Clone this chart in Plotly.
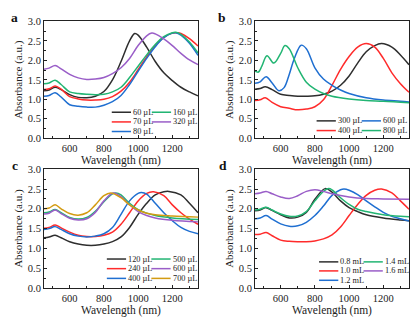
import plotly.graph_objects as go

# ---------------- Data ----------------
# Panel a
wl_a60 = [450, 480, 515, 550, 600, 650, 700, 750, 800, 850, 900, 950, 980, 1000, 1050, 1100, 1150, 1200, 1250, 1300, 1350]
ab_a60 = [1.22, 1.24, 1.31, 1.25, 1.12, 1.05, 1.04, 1.08, 1.20, 1.50, 1.97, 2.50, 2.69, 2.65, 2.34, 1.97, 1.68, 1.48, 1.31, 1.19, 1.09]
wl_a70 = [450, 480, 515, 550, 600, 650, 700, 750, 800, 850, 900, 950, 1000, 1050, 1100, 1150, 1200, 1230, 1250, 1300, 1350]
ab_a70 = [1.25, 1.27, 1.34, 1.26, 1.07, 1.01, 0.98, 0.98, 1.00, 1.07, 1.21, 1.44, 1.76, 2.09, 2.38, 2.59, 2.70, 2.71, 2.69, 2.56, 2.37]
wl_a80 = [450, 480, 515, 550, 600, 650, 700, 750, 800, 850, 900, 950, 1000, 1050, 1100, 1150, 1200, 1220, 1250, 1300, 1350]
ab_a80 = [1.08, 1.10, 1.17, 1.06, 0.86, 0.82, 0.80, 0.80, 0.85, 0.94, 1.10, 1.38, 1.72, 2.05, 2.35, 2.58, 2.70, 2.71, 2.65, 2.44, 2.13]
wl_a160 = [450, 480, 515, 550, 600, 650, 700, 750, 800, 850, 900, 950, 1000, 1050, 1100, 1150, 1200, 1220, 1250, 1300, 1350]
ab_a160 = [1.40, 1.42, 1.49, 1.38, 1.19, 1.15, 1.13, 1.12, 1.13, 1.19, 1.31, 1.56, 1.85, 2.14, 2.41, 2.61, 2.71, 2.72, 2.67, 2.47, 2.19]
wl_a320 = [450, 480, 515, 550, 600, 650, 700, 750, 800, 850, 900, 950, 1000, 1050, 1080, 1100, 1150, 1200, 1250, 1300, 1350]
ab_a320 = [1.77, 1.80, 1.87, 1.78, 1.64, 1.55, 1.51, 1.52, 1.56, 1.66, 1.81, 2.05, 2.38, 2.63, 2.70, 2.68, 2.55, 2.38, 2.18, 2.01, 1.89]

# Panel b
wl_b300 = [450, 480, 510, 550, 600, 650, 700, 750, 800, 850, 900, 950, 1000, 1050, 1100, 1150, 1190, 1250, 1300, 1350]
ab_b300 = [1.26, 1.28, 1.32, 1.25, 1.13, 1.10, 1.08, 1.08, 1.09, 1.13, 1.21, 1.36, 1.60, 1.93, 2.22, 2.38, 2.43, 2.34, 2.14, 1.89]
wl_b400 = [450, 480, 510, 550, 600, 650, 700, 750, 800, 850, 900, 950, 1000, 1050, 1100, 1150, 1200, 1250, 1300, 1350]
ab_b400 = [0.97, 0.99, 1.04, 0.92, 0.81, 0.77, 0.73, 0.75, 0.81, 0.99, 1.36, 1.77, 2.10, 2.34, 2.43, 2.34, 2.05, 1.68, 1.40, 1.18]
wl_b600 = [450, 480, 515, 550, 590, 620, 650, 680, 720, 750, 800, 850, 900, 950, 1000, 1100, 1200, 1300, 1350]
ab_b600 = [1.41, 1.45, 1.58, 1.42, 1.22, 1.30, 1.64, 2.05, 2.39, 2.30, 1.81, 1.52, 1.36, 1.24, 1.15, 1.04, 0.98, 0.95, 0.93]
wl_b800 = [450, 470, 490, 520, 560, 600, 625, 650, 700, 750, 800, 850, 900, 1000, 1100, 1200, 1350]
ab_b800 = [1.72, 1.70, 1.85, 2.12, 1.93, 2.18, 2.38, 2.30, 1.81, 1.44, 1.26, 1.15, 1.08, 1.01, 0.97, 0.95, 0.91]

# Panel c
wl_c120 = [450, 480, 515, 550, 600, 650, 700, 750, 800, 850, 900, 950, 1000, 1050, 1100, 1150, 1180, 1250, 1300, 1350]
ab_c120 = [1.27, 1.29, 1.33, 1.27, 1.17, 1.11, 1.08, 1.08, 1.11, 1.17, 1.29, 1.53, 1.86, 2.14, 2.35, 2.43, 2.44, 2.35, 2.14, 1.90]
wl_c240 = [450, 480, 515, 550, 600, 650, 700, 750, 800, 850, 900, 950, 1000, 1050, 1090, 1150, 1200, 1250, 1300, 1350]
ab_c240 = [1.51, 1.53, 1.59, 1.52, 1.41, 1.33, 1.30, 1.30, 1.33, 1.41, 1.61, 1.90, 2.20, 2.39, 2.43, 2.33, 2.10, 1.90, 1.74, 1.61]
wl_c400 = [450, 480, 515, 550, 600, 650, 700, 750, 800, 850, 900, 950, 1000, 1020, 1050, 1100, 1150, 1200, 1250, 1300, 1350]
ab_c400 = [1.48, 1.50, 1.55, 1.48, 1.37, 1.31, 1.29, 1.31, 1.37, 1.53, 1.86, 2.20, 2.39, 2.41, 2.37, 2.14, 1.90, 1.70, 1.53, 1.43, 1.37]
wl_c500 = [450, 480, 515, 550, 600, 650, 700, 750, 800, 850, 870, 900, 950, 1000, 1050, 1100, 1200, 1350]
ab_c500 = [1.90, 1.92, 1.98, 1.90, 1.78, 1.74, 1.78, 1.94, 2.18, 2.38, 2.40, 2.35, 2.14, 1.98, 1.89, 1.83, 1.77, 1.73]
wl_c600 = [450, 480, 515, 550, 600, 650, 700, 750, 800, 855, 900, 950, 1000, 1050, 1100, 1200, 1350]
ab_c600 = [1.87, 1.89, 1.97, 1.88, 1.76, 1.72, 1.75, 1.91, 2.20, 2.40, 2.31, 2.10, 1.93, 1.83, 1.77, 1.71, 1.67]
wl_c700 = [450, 480, 515, 550, 600, 650, 700, 750, 800, 840, 900, 950, 1000, 1050, 1100, 1200, 1350]
ab_c700 = [2.00, 2.02, 2.10, 2.00, 1.88, 1.84, 1.90, 2.10, 2.33, 2.40, 2.28, 2.10, 1.97, 1.89, 1.85, 1.82, 1.79]

# Panel d
wl_d08 = [450, 480, 515, 550, 600, 650, 700, 750, 800, 860, 900, 950, 1000, 1050, 1100, 1200, 1300, 1350]
ab_d08 = [1.95, 1.97, 2.03, 1.96, 1.85, 1.77, 1.79, 1.91, 2.24, 2.51, 2.42, 2.20, 2.03, 1.93, 1.85, 1.77, 1.72, 1.70]
wl_d10 = [450, 480, 515, 550, 600, 650, 700, 750, 800, 850, 900, 950, 1000, 1050, 1100, 1150, 1190, 1250, 1300, 1350]
ab_d10 = [1.35, 1.36, 1.40, 1.32, 1.21, 1.18, 1.17, 1.17, 1.19, 1.24, 1.34, 1.54, 1.83, 2.11, 2.34, 2.47, 2.50, 2.40, 2.20, 1.99]
wl_d12 = [450, 480, 515, 550, 600, 650, 700, 750, 800, 850, 900, 950, 970, 1000, 1050, 1100, 1150, 1200, 1250, 1300, 1350]
ab_d12 = [1.75, 1.77, 1.83, 1.74, 1.62, 1.56, 1.57, 1.66, 1.83, 2.07, 2.34, 2.48, 2.50, 2.47, 2.36, 2.20, 2.05, 1.91, 1.81, 1.75, 1.69]
wl_d14 = [450, 480, 515, 550, 600, 650, 700, 750, 800, 850, 880, 900, 950, 1000, 1050, 1100, 1200, 1300, 1350]
ab_d14 = [1.97, 1.99, 2.04, 1.97, 1.87, 1.81, 1.82, 1.93, 2.20, 2.44, 2.51, 2.48, 2.28, 2.11, 1.99, 1.93, 1.85, 1.81, 1.80]
wl_d16 = [450, 480, 515, 550, 600, 650, 700, 750, 800, 850, 900, 1000, 1100, 1200, 1350]
ab_d16 = [2.38, 2.40, 2.44, 2.38, 2.30, 2.26, 2.33, 2.44, 2.48, 2.44, 2.38, 2.30, 2.26, 2.25, 2.24]

# Tick labels
x_ticks = [600, 800, 1000, 1200]
y_ticks = [0.0, 0.5, 1.0, 1.5, 2.0, 2.5, 3.0]
panel_letters = ["a", "b", "c", "d"]

# ---------------- Styling ----------------
BLACK = "#2e2e2e"
RED = "#ff2b2b"
GREEN = "#22b573"
BLUE = "#1f6fd1"
PURPLE = "#9a5ec8"
ORANGE = "#d39b12"
FONT = "Liberation Serif, Times New Roman, serif"

panels = [
    ("x", "y", [
        ("60 µL", wl_a60, ab_a60, BLACK),
        ("70 µL", wl_a70, ab_a70, RED),
        ("80 µL", wl_a80, ab_a80, BLUE),
        ("160 µL", wl_a160, ab_a160, GREEN),
        ("320 µL", wl_a320, ab_a320, PURPLE),
    ], [["60 µL", "70 µL", "80 µL"], ["160 µL", "320 µL"]]),
    ("x2", "y2", [
        ("300 µL", wl_b300, ab_b300, BLACK),
        ("400 µL", wl_b400, ab_b400, RED),
        ("600 µL", wl_b600, ab_b600, BLUE),
        ("800 µL", wl_b800, ab_b800, GREEN),
    ], [["300 µL", "400 µL"], ["600 µL", "800 µL"]]),
    ("x3", "y3", [
        ("120 µL", wl_c120, ab_c120, BLACK),
        ("240 µL", wl_c240, ab_c240, RED),
        ("400 µL", wl_c400, ab_c400, BLUE),
        ("500 µL", wl_c500, ab_c500, GREEN),
        ("600 µL", wl_c600, ab_c600, PURPLE),
        ("700 µL", wl_c700, ab_c700, ORANGE),
    ], [["120 µL", "240 µL", "400 µL"], ["500 µL", "600 µL", "700 µL"]]),
    ("x4", "y4", [
        ("0.8 mL", wl_d08, ab_d08, BLACK),
        ("1.0 mL", wl_d10, ab_d10, RED),
        ("1.2 mL", wl_d12, ab_d12, BLUE),
        ("1.4 mL", wl_d14, ab_d14, GREEN),
        ("1.6 mL", wl_d16, ab_d16, PURPLE),
    ], [["0.8 mL", "1.0 mL", "1.2 mL"], ["1.4 mL", "1.6 mL"]]),
]

# legend geometry per panel (fractions of each subplot's domain)
legend_geom = [
    dict(cols=[0.44, 0.70], rows=[0.223, 0.140, 0.058]),
    dict(cols=[0.40, 0.693], rows=[0.149, 0.066]),
    dict(cols=[0.408, 0.697], rows=[0.244, 0.163, 0.081]),
    dict(cols=[0.416, 0.705], rows=[0.22, 0.144, 0.065]),
]
LINE_LEN = 0.125

fig = go.Figure()
shapes = []
annotations = []

for (xa, ya, series, cols), geom in zip(panels, legend_geom):
    colors = {}
    for name, wl, ab, col in series:
        colors[name] = col
        fig.add_trace(go.Scatter(
            x=wl, y=ab, mode="lines", name=name, xaxis=xa, yaxis=ya,
            line=dict(color=col, width=1.5, shape="spline", smoothing=1.0),
            showlegend=False,
        ))
    for ci, col_names in enumerate(cols):
        x0 = geom["cols"][ci]
        for ri, name in enumerate(col_names):
            yy = geom["rows"][ri]
            shapes.append(dict(
                type="line", xref=f"{xa} domain", yref=f"{ya} domain",
                x0=x0, x1=x0 + LINE_LEN, y0=yy, y1=yy,
                line=dict(color=colors[name], width=1.5),
            ))
            annotations.append(dict(
                text=name, xref=f"{xa} domain", yref=f"{ya} domain",
                x=x0 + LINE_LEN, y=yy, xanchor="left", yanchor="middle",
                showarrow=False, font=dict(family=FONT, size=8.3, color="#222"),
            ))

# panel letters
letter_pos = [(0.022, 0.99), (0.516, 0.99), (0.024, 0.516), (0.518, 0.516)]
for letter, (lx, ly) in zip(panel_letters, letter_pos):
    annotations.append(dict(
        text=f"<b>{letter}</b>", xref="paper", yref="paper", x=lx, y=ly,
        xanchor="left", yanchor="top", showarrow=False,
        font=dict(family=FONT, size=13.5, color="#111"),
    ))

xdoms = [[0.105, 0.4726], [0.6086, 0.9761]]
ydoms = [[0.5728, 0.9474], [0.0929, 0.4737]]

axis_common = dict(
    showline=True, linecolor="#222", linewidth=1, mirror=True,
    ticks="inside", ticklen=3, tickwidth=1, tickcolor="#222",
    showgrid=False, zeroline=False,
    tickfont=dict(family=FONT, size=10.5, color="#222"),
)

layout = dict(
    width=419, height=323,
    margin=dict(l=0, r=0, t=0, b=0),
    paper_bgcolor="white", plot_bgcolor="white",
    showlegend=False,
    shapes=shapes, annotations=annotations,
    font=dict(family=FONT, color="#222"),
)

for i, (xa, ya, _, _) in enumerate(panels):
    r, c = divmod(i, 2)
    xkey = "xaxis" if i == 0 else f"xaxis{i+1}"
    ykey = "yaxis" if i == 0 else f"yaxis{i+1}"
    layout[xkey] = dict(
        axis_common, domain=xdoms[c], anchor=ya, range=[450, 1350],
        tickvals=x_ticks,
        minor=dict(ticks="inside", ticklen=2, dtick=100, tick0=0, tickcolor="#222"),
        title=dict(text="Wavelength (nm)", font=dict(family=FONT, size=11.5), standoff=0),
    )
    layout[ykey] = dict(
        axis_common, domain=ydoms[r], anchor=xa, range=[0, 3.0],
        tickvals=y_ticks, tickformat=".1f",
        minor=dict(ticks="inside", ticklen=2, dtick=0.25, tickcolor="#222"),
        title=dict(text="Absorbance (a.u.)", font=dict(family=FONT, size=11), standoff=2),
    )

fig.update_layout(**layout)
fig.write_html("out.html", config={"displayModeBar": False},
               post_script="document.body.style.margin='0';")
